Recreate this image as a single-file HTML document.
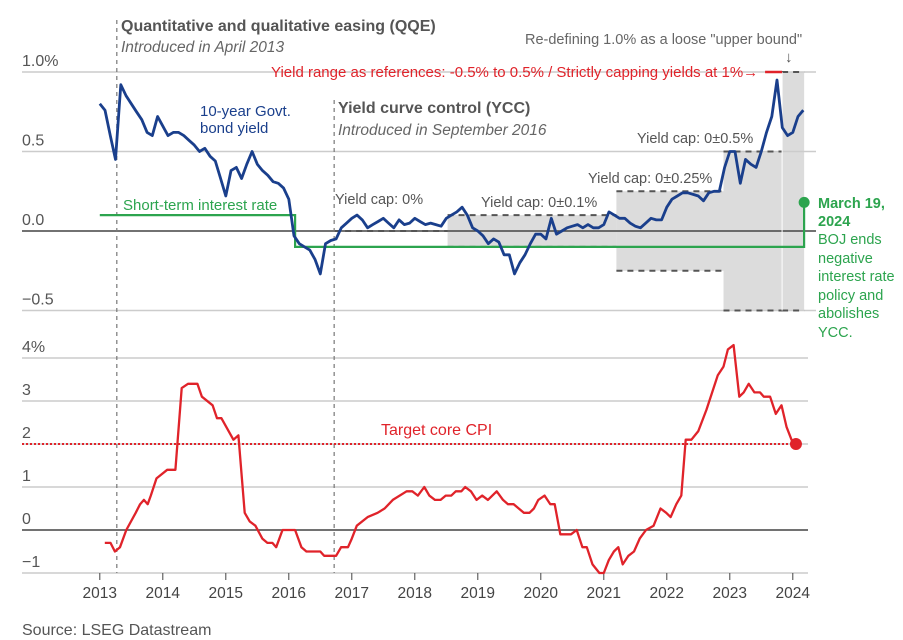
<!DOCTYPE html>
<html><head><meta charset="utf-8">
<style>
html,body{margin:0;padding:0;background:#fff;}
svg{display:block;font-family:"Liberation Sans",sans-serif;}
</style></head>
<body>
<svg id="chart" width="903" height="640" viewBox="0 0 903 640" xmlns="http://www.w3.org/2000/svg">
  <rect x="0" y="0" width="903" height="640" fill="#fff"/>
  <g id="bands"></g>
  <g id="grid"></g>
  <g id="lines"></g>
  <g id="labels"></g>
</svg>
<script>
// ---- data ----
const yieldStartYear = 2013;
const yieldValues = [
 0.80,0.76,0.60,0.45,0.92,0.85,0.80,0.75,0.70,0.62,0.60,0.72,
 0.66,0.60,0.62,0.62,0.60,0.57,0.54,0.50,0.52,0.47,0.44,0.33,
 0.22,0.38,0.40,0.33,0.42,0.50,0.42,0.38,0.35,0.31,0.30,0.27,
 0.20,-0.03,-0.08,-0.10,-0.12,-0.18,-0.27,-0.08,-0.06,-0.05,0.02,0.05,
 0.08,0.10,0.07,0.02,0.04,0.06,0.08,0.05,0.02,0.07,0.04,0.05,
 0.08,0.06,0.04,0.05,0.04,0.03,0.08,0.10,0.12,0.15,0.10,0.02,
 0.00,-0.03,-0.08,-0.05,-0.07,-0.15,-0.15,-0.27,-0.20,-0.15,-0.08,-0.02,
 -0.02,-0.05,0.08,-0.02,0.00,0.02,0.03,0.04,0.02,0.04,0.02,0.02,
 0.04,0.12,0.10,0.08,0.08,0.05,0.03,0.02,0.05,0.08,0.07,0.07,
 0.15,0.20,0.22,0.24,0.24,0.23,0.22,0.19,0.24,0.25,0.25,0.40,
 0.50,0.50,0.30,0.45,0.42,0.40,0.50,0.62,0.72,0.95,0.65,0.60,
 0.62,0.72,0.76
];
const rateDates = [2013.0, 2016.1, 2016.1, 2024.18, 2024.18];
const rateValues = [0.1, 0.1, -0.1, -0.1, 0.18];
const capStarts = [2018.52, 2021.2, 2022.9, 2023.83];
const capEnds   = [2021.2, 2022.9, 2023.83, 2024.18];
const capHighs  = [0.1, 0.25, 0.5, 1.0];
const capLows   = [-0.1, -0.25, -0.5, -0.5];
const cpiDates = [2013.08,2013.17,2013.24,2013.32,2013.42,2013.57,2013.64,2013.7,2013.76,2013.81,2013.9,2014.07,2014.2,2014.3,2014.4,2014.55,2014.62,2014.79,2014.86,2014.93,2015.12,2015.2,2015.3,2015.38,2015.47,2015.58,2015.66,2015.74,2015.8,2015.9,2016.1,2016.2,2016.28,2016.5,2016.56,2016.75,2016.83,2016.94,2017.0,2017.08,2017.25,2017.41,2017.52,2017.65,2017.87,2017.96,2018.05,2018.15,2018.23,2018.32,2018.41,2018.49,2018.58,2018.65,2018.74,2018.8,2018.89,2018.98,2019.07,2019.16,2019.3,2019.4,2019.48,2019.57,2019.73,2019.82,2019.89,2019.96,2020.06,2020.15,2020.22,2020.31,2020.48,2020.57,2020.66,2020.73,2020.82,2020.93,2021.0,2021.08,2021.16,2021.23,2021.3,2021.39,2021.48,2021.57,2021.67,2021.79,2021.9,2021.99,2022.06,2022.15,2022.23,2022.3,2022.39,2022.5,2022.63,2022.81,2022.9,2022.97,2023.06,2023.15,2023.22,2023.3,2023.39,2023.48,2023.54,2023.64,2023.73,2023.82,2023.9,2023.98,2024.05];
const cpiValues = [-0.3,-0.3,-0.5,-0.4,0.0,0.4,0.6,0.7,0.6,0.8,1.2,1.4,1.4,3.3,3.4,3.4,3.1,2.9,2.6,2.6,2.1,2.2,0.4,0.2,0.1,-0.2,-0.3,-0.3,-0.4,0.0,0.0,-0.4,-0.5,-0.5,-0.6,-0.6,-0.4,-0.4,-0.2,0.1,0.3,0.4,0.5,0.7,0.9,0.9,0.8,1.0,0.8,0.7,0.7,0.8,0.8,0.9,0.9,1.0,0.9,0.7,0.8,0.7,0.9,0.7,0.6,0.6,0.4,0.4,0.5,0.7,0.8,0.6,0.6,-0.1,-0.1,0.0,-0.4,-0.4,-0.8,-1.0,-1.0,-0.7,-0.5,-0.4,-0.8,-0.6,-0.5,-0.2,0.0,0.1,0.5,0.4,0.3,0.6,0.8,2.1,2.1,2.3,2.8,3.6,3.8,4.2,4.3,3.1,3.2,3.4,3.2,3.2,3.1,3.1,2.7,2.9,2.4,2.1,2.0];
const years = [2013,2014,2015,2016,2017,2018,2019,2020,2021,2022,2023,2024];
const topTicks = [1.0, 0.5, 0.0, -0.5];
const topTickLabels = ["1.0%","0.5","0.0","\u22120.5"];
const botTicks = [4,3,2,1,0,-1];
const botTickLabels = ["4%","3","2","1","0","\u22121"];

// ---- scales ----
const X = t => 99.8 + 63 * (t - 2013);
const YT = v => 231 - 159 * v;
const YB = v => 530 - 43 * v;
const NS = "http://www.w3.org/2000/svg";
function mk(tag, attrs, parent) {
  const e = document.createElementNS(NS, tag);
  for (const k in attrs) e.setAttribute(k, attrs[k]);
  document.getElementById(parent).appendChild(e);
  return e;
}
function txt(s, x, y, size, fill, extra, parent) {
  const e = mk("text", Object.assign({x: x, y: y, "font-size": size, fill: fill}, extra || {}), parent || "labels");
  e.textContent = s;
  return e;
}

capStarts.forEach((s, i) => {
  const r = mk("rect", {x: X(s), y: YT(capHighs[i]), width: X(capEnds[i]) - X(s), height: YT(capLows[i]) - YT(capHighs[i]), fill: "#dcdcdc"}, "bands");
  
  
});
topTicks.forEach((v, i) => {
  const l = mk("line", {x1: 22, x2: 816, y1: YT(v), y2: YT(v), stroke: v === 0 ? "#444" : "#ccc", "stroke-width": 1.5}, "grid");
  
  
  const t = txt(topTickLabels[i], 22, YT(v) - 6, 16, "#555");
  
  
});
botTicks.forEach((v, i) => {
  const l = mk("line", {x1: 22, x2: 808, y1: YB(v), y2: YB(v), stroke: v === 0 ? "#444" : "#ccc", "stroke-width": 1.5}, "grid");
  
  
  const t = txt(botTickLabels[i], 22, YB(v) - 6, 16, "#555");
  
  
});
years.forEach(y => {
  const l = mk("line", {x1: X(y), x2: X(y), y1: YB(-1), y2: YB(-1) + 7, stroke: "#444", "stroke-width": 1}, "grid");
  
  
  const t = txt(String(y), X(y), 598, 15.5, "#444", {"text-anchor": "middle"});
  
  
});
capStarts.forEach((s, i) => {
  [capHighs[i], capLows[i]].forEach(v => {
    const d = mk("line", {x1: X(s), x2: X(capEnds[i]), y1: YT(v), y2: YT(v), stroke: "#555", "stroke-width": 2, "stroke-dasharray": "6,5"}, "grid");
    
    
  });
});
const z = mk("line", {x1: X(2016.72), x2: X(2018.52), y1: YT(0), y2: YT(0), stroke: "#555", "stroke-width": 2, "stroke-dasharray": "6,5"}, "grid");


const wl = mk("line", {x1: X(2023.83), x2: X(2023.83), y1: YT(1), y2: YT(-0.5), stroke: "#fff", "stroke-width": 1}, "grid");


const red = mk("line", {x1: X(2023.56), x2: X(2023.83), y1: YT(1), y2: YT(1), stroke: "#e0232a", "stroke-width": 2.5}, "grid");



[[2013.27, 20, "qqe-vline"], [2016.72, 100, "ycc-vline"]].forEach(a => {
  const l = mk("line", {x1: X(a[0]), x2: X(a[0]), y1: a[1], y2: YB(-1), stroke: "#777", "stroke-width": 1.2, "stroke-dasharray": "4,4"}, "grid");
  
  
});

let p = rateDates.map((d, i) => (i ? "L" : "M") + X(d).toFixed(1) + "," + YT(rateValues[i]).toFixed(1)).join("");
const rl = mk("path", {d: p, fill: "none", stroke: "#2ca44e", "stroke-width": 2.2}, "lines");


const rd = mk("circle", {cx: X(rateDates[rateDates.length - 1]), cy: YT(rateValues[rateValues.length - 1]), r: 5.5, fill: "#2ca44e"}, "lines");



p = yieldValues.map((v, i) => (i ? "L" : "M") + X(yieldStartYear + i / 12).toFixed(1) + "," + YT(v).toFixed(1)).join("");
const yl = mk("path", {d: p, fill: "none", stroke: "#1a3f8c", "stroke-width": 2.8, "stroke-linejoin": "round"}, "lines");



const tl = mk("line", {x1: 22, x2: X(cpiDates[cpiDates.length - 1]), y1: YB(2), y2: YB(2), stroke: "#e0232a", "stroke-width": 2, "stroke-dasharray": "2,2"}, "lines");


p = cpiDates.map((d, i) => (i ? "L" : "M") + X(d).toFixed(1) + "," + YB(cpiValues[i]).toFixed(1)).join("");
const cl = mk("path", {d: p, fill: "none", stroke: "#e0232a", "stroke-width": 2.3, "stroke-linejoin": "round"}, "lines");


const cd = mk("circle", {cx: X(cpiDates[cpiDates.length - 1]), cy: YB(cpiValues[cpiValues.length - 1]), r: 6, fill: "#e0232a"}, "lines");


</script>
<svg style="position:absolute;left:0;top:0" width="903" height="640">
  <g font-family="Liberation Sans, sans-serif">
    <text x="121" y="31" font-size="16" font-weight="bold" fill="#555">Quantitative and qualitative easing (QQE)</text>
    <text x="121" y="52" font-size="15.5" font-style="italic" fill="#666">Introduced in April 2013</text>
    <text x="338" y="113" font-size="16" font-weight="bold" fill="#555">Yield curve control (YCC)</text>
    <text x="338" y="135" font-size="15.5" font-style="italic" fill="#666">Introduced in September 2016</text>
    <text x="200" y="116" font-size="15" fill="#1a3f8c">10-year Govt.</text>
    <text x="200" y="133" font-size="15" fill="#1a3f8c">bond yield</text>
    <text x="123" y="210" font-size="15" fill="#2ca44e">Short-term interest rate</text>
    <text x="271" y="77" font-size="15" fill="#e0232a">Yield range as references: -0.5% to 0.5% / Strictly capping yields at 1%→</text>
    <text x="525" y="44" font-size="14.5" fill="#666">Re-defining 1.0% as a loose "upper bound"</text>
    <text x="785" y="62" font-size="15" fill="#555">↓</text>
    <text x="335" y="204" font-size="14.5" fill="#555">Yield cap: 0%</text>
    <text x="481" y="207" font-size="14.5" fill="#555">Yield cap: 0±0.1%</text>
    <text x="588" y="183" font-size="14.5" fill="#555">Yield cap: 0±0.25%</text>
    <text x="637" y="143" font-size="14.5" fill="#555">Yield cap: 0±0.5%</text>
    <g font-size="14.5" fill="#2ca44e">
      <text x="818" y="208" font-weight="bold">March 19,</text>
      <text x="818" y="226" font-weight="bold">2024</text>
      <text x="818" y="244">BOJ ends</text>
      <text x="818" y="263">negative</text>
      <text x="818" y="281">interest rate</text>
      <text x="818" y="300">policy and</text>
      <text x="818" y="318">abolishes</text>
      <text x="818" y="337">YCC.</text>
    </g>
    <text x="381" y="435" font-size="16" fill="#e0232a">Target core CPI</text>
    <text x="22" y="635" font-size="16" fill="#555">Source: LSEG Datastream</text>
  </g>
</svg>
</body></html>
